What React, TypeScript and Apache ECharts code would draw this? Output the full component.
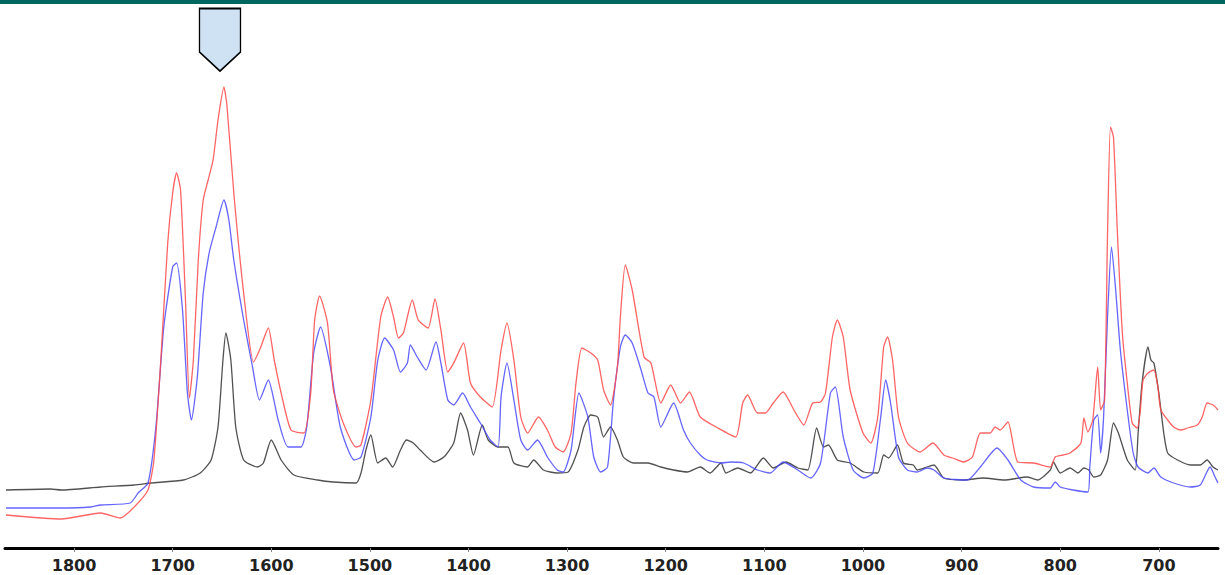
import React, { useEffect, useRef } from "react";
import * as echarts from "echarts";

// wavenumber (cm-1) axis labels
const tickValues = [1800, 1700, 1600, 1500, 1400, 1300, 1200, 1100, 1000, 900, 800, 700];

// [wavenumber, absorbance]
const redSpectrum = [[1869,0.066],[1813,0.058],[1773,0.070],[1753,0.060],[1739,0.082],[1725,0.116],[1719,0.176],[1712,0.376],[1705,0.610],[1700,0.710],[1696,0.750],[1692,0.716],[1687,0.496],[1683,0.300],[1679,0.376],[1674,0.576],[1669,0.696],[1664,0.736],[1659,0.776],[1654,0.856],[1648,0.922],[1645,0.886],[1638,0.710],[1628,0.510],[1618,0.372],[1611,0.400],[1603,0.440],[1597,0.376],[1590,0.310],[1580,0.236],[1567,0.230],[1560,0.310],[1556,0.456],[1551,0.504],[1543,0.450],[1537,0.316],[1527,0.250],[1514,0.202],[1509,0.206],[1499,0.296],[1489,0.462],[1482,0.502],[1476,0.462],[1471,0.420],[1466,0.430],[1457,0.496],[1451,0.456],[1441,0.440],[1434,0.498],[1428,0.436],[1421,0.352],[1415,0.370],[1405,0.410],[1398,0.330],[1388,0.302],[1376,0.282],[1367,0.396],[1361,0.450],[1354,0.376],[1347,0.262],[1340,0.230],[1329,0.262],[1320,0.236],[1312,0.202],[1304,0.192],[1296,0.230],[1291,0.330],[1285,0.400],[1276,0.390],[1269,0.376],[1263,0.316],[1256,0.286],[1249,0.362],[1246,0.462],[1241,0.566],[1234,0.516],[1222,0.382],[1215,0.370],[1205,0.290],[1195,0.326],[1185,0.290],[1176,0.312],[1165,0.262],[1147,0.240],[1129,0.222],[1122,0.290],[1117,0.306],[1107,0.270],[1099,0.270],[1091,0.290],[1081,0.312],[1070,0.276],[1060,0.246],[1051,0.290],[1043,0.292],[1038,0.310],[1031,0.422],[1026,0.456],[1020,0.422],[1013,0.316],[1000,0.230],[992,0.210],[985,0.262],[979,0.402],[975,0.422],[970,0.376],[964,0.262],[955,0.210],[942,0.192],[929,0.210],[918,0.186],[909,0.180],[898,0.172],[889,0.182],[881,0.230],[871,0.230],[866,0.242],[861,0.236],[853,0.252],[843,0.172],[827,0.170],[810,0.162],[805,0.182],[797,0.186],[790,0.190],[779,0.210],[776,0.260],[772,0.232],[767,0.256],[762,0.362],[759,0.276],[755,0.296],[752,0.630],[749,0.842],[746,0.822],[742,0.630],[737,0.430],[732,0.330],[727,0.250],[722,0.240],[719,0.270],[716,0.336],[711,0.350],[705,0.356],[701,0.322],[698,0.276],[691,0.256],[685,0.242],[678,0.236],[671,0.240],[661,0.246],[656,0.262],[651,0.290],[645,0.286],[640,0.276]];

const blueSpectrum = [[1869,0.080],[1813,0.080],[1783,0.082],[1773,0.086],[1743,0.090],[1735,0.110],[1725,0.130],[1717,0.242],[1709,0.442],[1700,0.562],[1696,0.570],[1690,0.476],[1685,0.310],[1681,0.256],[1675,0.342],[1669,0.510],[1663,0.590],[1656,0.642],[1648,0.696],[1643,0.656],[1638,0.576],[1628,0.456],[1619,0.362],[1612,0.296],[1603,0.336],[1593,0.256],[1583,0.202],[1570,0.202],[1564,0.242],[1557,0.390],[1550,0.442],[1540,0.362],[1530,0.242],[1516,0.176],[1509,0.182],[1499,0.262],[1492,0.376],[1485,0.420],[1476,0.396],[1469,0.352],[1462,0.370],[1459,0.406],[1452,0.382],[1443,0.356],[1433,0.412],[1428,0.370],[1421,0.296],[1415,0.286],[1406,0.310],[1398,0.282],[1388,0.250],[1378,0.216],[1370,0.202],[1367,0.302],[1361,0.370],[1354,0.296],[1347,0.216],[1340,0.196],[1330,0.216],[1320,0.182],[1310,0.156],[1304,0.152],[1296,0.196],[1288,0.310],[1279,0.262],[1273,0.182],[1266,0.152],[1259,0.162],[1253,0.296],[1246,0.402],[1241,0.426],[1234,0.410],[1225,0.356],[1218,0.310],[1212,0.302],[1205,0.242],[1192,0.290],[1182,0.236],[1175,0.210],[1165,0.186],[1158,0.176],[1144,0.170],[1134,0.172],[1121,0.170],[1107,0.156],[1094,0.150],[1081,0.172],[1066,0.156],[1053,0.140],[1043,0.170],[1033,0.310],[1028,0.322],[1020,0.222],[1010,0.156],[999,0.140],[990,0.150],[982,0.262],[977,0.336],[972,0.290],[964,0.182],[955,0.156],[945,0.152],[935,0.160],[928,0.156],[918,0.140],[894,0.136],[881,0.162],[864,0.200],[853,0.176],[840,0.136],[827,0.122],[810,0.120],[805,0.132],[800,0.122],[787,0.116],[772,0.112],[770,0.162],[766,0.256],[762,0.266],[759,0.190],[756,0.262],[752,0.462],[748,0.602],[744,0.522],[739,0.396],[732,0.276],[726,0.190],[721,0.162],[711,0.150],[705,0.160],[698,0.142],[685,0.130],[668,0.122],[658,0.126],[648,0.162],[643,0.142],[640,0.130]];

const blackSpectrum = [[1869,0.116],[1824,0.118],[1813,0.116],[1773,0.122],[1739,0.126],[1722,0.130],[1689,0.136],[1672,0.150],[1661,0.176],[1654,0.242],[1649,0.376],[1646,0.430],[1641,0.376],[1636,0.242],[1628,0.176],[1614,0.162],[1608,0.170],[1600,0.216],[1590,0.176],[1577,0.146],[1553,0.136],[1537,0.132],[1514,0.130],[1509,0.150],[1504,0.196],[1499,0.226],[1492,0.170],[1484,0.180],[1477,0.162],[1469,0.196],[1463,0.216],[1456,0.210],[1449,0.196],[1435,0.172],[1425,0.182],[1415,0.210],[1408,0.270],[1401,0.236],[1395,0.186],[1386,0.246],[1380,0.216],[1370,0.202],[1360,0.202],[1354,0.170],[1340,0.162],[1334,0.176],[1324,0.156],[1310,0.150],[1299,0.152],[1289,0.196],[1283,0.242],[1276,0.266],[1269,0.262],[1263,0.222],[1256,0.242],[1249,0.216],[1243,0.182],[1233,0.170],[1218,0.170],[1205,0.162],[1192,0.156],[1178,0.152],[1165,0.162],[1155,0.150],[1144,0.170],[1139,0.150],[1127,0.160],[1114,0.150],[1101,0.180],[1091,0.160],[1078,0.172],[1066,0.160],[1056,0.156],[1047,0.240],[1040,0.202],[1035,0.206],[1026,0.176],[1013,0.170],[999,0.152],[985,0.150],[979,0.186],[974,0.180],[965,0.206],[959,0.170],[949,0.166],[945,0.156],[935,0.162],[928,0.166],[918,0.140],[898,0.136],[878,0.140],[857,0.136],[833,0.142],[823,0.136],[810,0.156],[807,0.172],[800,0.150],[790,0.160],[782,0.150],[776,0.160],[771,0.156],[766,0.142],[759,0.146],[752,0.176],[746,0.250],[741,0.230],[732,0.176],[724,0.156],[721,0.230],[717,0.330],[711,0.402],[708,0.376],[705,0.370],[700,0.310],[695,0.230],[691,0.190],[681,0.176],[668,0.166],[658,0.166],[651,0.176],[645,0.162],[640,0.156]];

// highlighted band marker (wavenumber, absorbance position)
const markerPosition = [1652, 1.0165];

export default function App() {
  const ref = useRef<HTMLDivElement>(null);
  useEffect(() => {
    if (!ref.current) return;
    const chart = echarts.init(ref.current, null, { renderer: "svg" });
    const lineSeries = (name: string, data: number[][], color: string) => ({
      name,
      type: "line",
      data,
      showSymbol: false,
      symbol: "none",
      smooth: 0.2,
      lineStyle: { color, width: 1.3, opacity: 0.85 },
      emphasis: { disabled: true },
      z: 2,
    });
    chart.setOption({
      animation: false,
      backgroundColor: "#ffffff",
      grid: { left: 5, right: 7, top: 8, bottom: 27 },
      xAxis: {
        type: "value",
        inverse: true,
        min: 640,
        max: 1870,
        axisLine: { show: true, lineStyle: { color: "#000", width: 3 } },
        axisTick: {
          show: true,
          length: 4,
          lineStyle: { color: "#888", width: 1 },
          customValues: tickValues,
        },
        axisLabel: {
          color: "#222",
          fontSize: 16,
          fontWeight: "bold",
          fontFamily: "DejaVu Sans",
          margin: 9,
          customValues: tickValues,
          formatter: (v: number) => String(v),
        },
        splitLine: { show: false },
      },
      yAxis: {
        type: "value",
        min: 0,
        max: 1.08,
        show: false,
        splitLine: { show: false },
      },
      graphic: [
        {
          type: "rect",
          left: 0,
          top: 0,
          shape: { width: 1225, height: 4 },
          style: { fill: "#006760" },
          z: 10,
        },
      ],
      series: [
        lineSeries("Reference", blackSpectrum, "#333333"),
        lineSeries("Sample B", blueSpectrum, "#4a4aff"),
        {
          ...lineSeries("Sample A", redSpectrum, "#ff4a4a"),
          markPoint: {
            silent: true,
            symbol: "path://M0,0 L41,0 L41,43.5 L20.5,62.5 L0,43.5 Z",
            symbolSize: [41, 62.5],
            label: { show: false },
            itemStyle: { color: "#cfe2f3", borderColor: "#000", borderWidth: 1.6 },
            data: [{ coord: markerPosition }],
          },
        },
      ],
    });
    return () => chart.dispose();
  }, []);
  return (
    <div
      ref={ref}
      style={{ position: "fixed", left: 0, top: 0, width: 1225, height: 575 }}
    />
  );
}
